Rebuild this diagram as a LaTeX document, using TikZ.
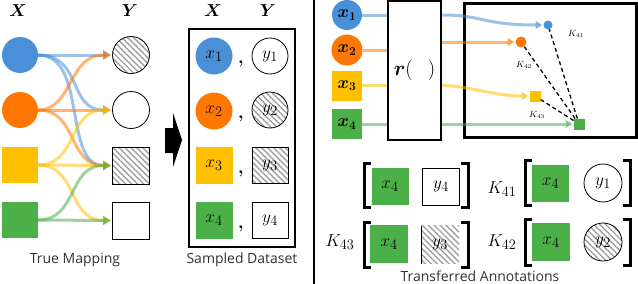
\documentclass[tikz,border=0pt]{standalone}
\usepackage{amsmath,bm}
\usepackage{fontspec}
\setsansfont{Open Sans}
\usetikzlibrary{arrows.meta,patterns.meta}
\definecolor{cblue}{RGB}{74,144,217}
\definecolor{corange}{RGB}{255,119,0}
\definecolor{cyellow}{RGB}{255,192,0}
\definecolor{cgreen}{RGB}{76,176,72}
\definecolor{ctext}{RGB}{50,50,50}
\begin{document}
\begin{tikzpicture}[x=1pt,y=-1pt,
  shp/.style={inner sep=0pt,outer sep=0pt},
  xcirc/.style={shp,circle,minimum size=#1},
  xsq/.style={shp,rectangle,minimum size=#1},
  hatch/.style={pattern={Lines[angle=-45,distance=4.2pt,line width=1.4pt]},pattern color=gray!75},
  ybord/.style={draw=black,line width=0.8pt},
  arr/.style={line width=3pt,opacity=0.55,-{Triangle[length=8pt,width=9pt]},shorten >=1.5pt},
  rline/.style={line width=3pt,opacity=0.55},
  rarr/.style={line width=3pt,opacity=0.55,-{Triangle[length=7pt,width=8pt]},shorten >=1pt},
  kdash/.style={line width=1.3pt,dash pattern=on 4pt off 3pt},
  hdr/.style={font=\fontsize{17}{18}\selectfont},
  lab/.style={font=\fontsize{19}{20}\selectfont},
  blab/.style={font=\fontsize{17}{18}\selectfont},
  klab/.style={font=\fontsize{9}{10}\selectfont},
  kbig/.style={font=\fontsize{19}{20}\selectfont},
  captxt/.style={font=\sffamily\fontsize{14}{16}\selectfont,text=ctext,inner sep=0.5pt},
  brk/.style={line width=3pt},
  thickbox/.style={draw,line width=2.6pt,inner sep=0pt},
]
\useasboundingbox (0,0) rectangle (638,284);

% ---------------- left panel ----------------
\node[hdr] (LXh) at (18,11) {$\bm{X}$};
\node[hdr] (LYh) at (130,11) {$\bm{Y}$};
\node[xcirc=36pt,fill=cblue] (LX1) at (20,55) {};
\node[xcirc=36pt,fill=corange] (LX2) at (20,110) {};
\node[xsq=36pt,fill=cyellow] (LX3) at (20,165) {};
\node[xsq=36pt,fill=cgreen] (LX4) at (20,220) {};
\node[xcirc=37pt,hatch,ybord] (LY1) at (131,55) {};
\node[xcirc=37pt,ybord] (LY2) at (131,110) {};
\node[xsq=37pt,hatch,ybord] (LY3) at (131,165.5) {};
\node[xsq=37pt,ybord] (LY4) at (131,220.5) {};

\draw[arr,cblue] (LX1.east) -- (LY1.west);
\draw[arr,cblue] (LX1.east) .. controls +(45,0) and +(-45,0) .. (LY2.west);
\draw[arr,cblue] (LX1.east) .. controls +(50,0) and +(-50,0) .. (LY3.west);
\draw[arr,corange] (LX2.east) .. controls +(35,0) and +(-45,0) .. (LY1.west);
\draw[arr,corange] (LX2.east) -- (LY2.west);
\draw[arr,corange] (LX2.east) .. controls +(40,0) and +(-45,0) .. (LY3.west);
\draw[arr,cyellow] (LX3.east) .. controls +(40,0) and +(-45,0) .. (LY2.west);
\draw[arr,cyellow] (LX3.east) -- (LY3.west);
\draw[arr,cyellow] (LX3.east) .. controls +(40,0) and +(-45,0) .. (LY4.west);
\draw[arr,cgreen] (LX4.east) .. controls +(40,0) and +(-45,0) .. (LY3.west);
\draw[arr,cgreen] (LX4.east) -- (LY4.west);

\node[captxt] (tm) at (75,260) {True Mapping};

% big black arrow
\fill (165,128) -- (173,128) -- (173,113) -- (182,140) -- (173,167) -- (173,153) -- (165,153) -- cycle;

% ---------------- middle panel ----------------
\node[hdr] (MXh) at (213,11) {$\bm{X}$};
\node[hdr] (MYh) at (268,11) {$\bm{Y}$};
\node[thickbox,minimum width=106pt,minimum height=218pt] (MB) at (242,138) {};
\node[xcirc=37pt,fill=cblue,lab] (MX1) at (214,56) {$x_1$};
\node[xcirc=37pt,fill=corange,lab] (MX2) at (214,111) {$x_2$};
\node[xsq=37pt,fill=cyellow,lab] (MX3) at (214,165.5) {$x_3$};
\node[xsq=37pt,fill=cgreen,lab] (MX4) at (214,220.5) {$x_4$};
\node[xcirc=36pt,ybord,lab] (MY1) at (270,56) {$y_1$};
\node[xcirc=36pt,ybord,hatch,lab] (MY2) at (270,110) {$y_2$};
\node[xsq=36pt,ybord,hatch,lab] (MY3) at (270,165.5) {$y_3$};
\node[xsq=36pt,ybord,lab] (MY4) at (270,220.5) {$y_4$};
\node[lab] (c1) at (241,64) {$\bm{,}$};
\node[lab] (c2) at (241,119) {$\bm{,}$};
\node[lab] (c3) at (241,174) {$\bm{,}$};
\node[lab] (c4) at (241,229) {$\bm{,}$};
\node[captxt] (sd) at (242,260) {Sampled Dataset};

% separator
\draw[line width=1.5pt] (314,0) -- (314,284);

% ---------------- right top ----------------
\node[xcirc=30pt,fill=cblue,blab] (RX1) at (347,15) {$\bm{x}_{\bm 1}$};
\node[xcirc=31pt,fill=corange,blab] (RX2) at (347,50) {$\bm{x}_{\bm 2}$};
\node[xsq=30pt,fill=cyellow,blab] (RX3) at (347,85.5) {$\bm{x}_{\bm 3}$};
\node[xsq=30pt,fill=cgreen,blab] (RX4) at (347,124) {$\bm{x}_{\bm 4}$};
\node[thickbox,minimum width=53pt,minimum height=139pt,font=\fontsize{20}{22}\selectfont] (rbox) at (414.5,70.5) {$\bm{r}(\;\;\,)$};
\node[draw,line width=3pt,inner sep=0pt,minimum width=172pt,minimum height=134pt] (BB) at (550,70) {};

\node[xcirc=9pt,fill=cblue] (TB) at (548,25) {};
\node[xcirc=11pt,fill=corange] (TO) at (521,42) {};
\node[xsq=11pt,fill=cyellow] (TY) at (535,96) {};
\node[xsq=11pt,fill=cgreen] (TG) at (579,124) {};

\draw[rline,cblue] (RX1.east) -- (RX1.east -| rbox.west);
\draw[rline,corange] (RX2.east) -- (RX2.east -| rbox.west);
\draw[rline,cyellow] (RX3.east) -- (RX3.east -| rbox.west);
\draw[rline,cgreen] (RX4.east) -- (RX4.east -| rbox.west);

\draw[rarr,cblue] (rbox.east |- RX1) .. controls +(40,0) and +(-60,0) .. (TB.west);
\draw[rarr,corange] (rbox.east |- TO) -- (TO.west);
\draw[rarr,cyellow] (rbox.east |- RX3) .. controls +(25,0) and +(-35,0) .. (TY.west);
\draw[rarr,cgreen] (rbox.east |- TG) -- (TG.west);

\draw[kdash] (TG) -- (TB);
\draw[kdash] (TG) -- (TO);
\draw[kdash] (TG) -- (TY);
\node[klab] (k41s) at (576,34) {$K_{41}$};
\node[klab] (k42s) at (524,65) {$K_{42}$};
\node[klab] (k43s) at (537,115) {$K_{43}$};

% ---------------- right bottom ----------------
% group A
\draw[brk] (371,163) -- (364,163) -- (364,207) -- (371,207);
\node[xsq=37pt,fill=cgreen,lab] (GA) at (390,186) {$x_4$};
\node[xsq=37pt,ybord,lab] (YA) at (441,186.5) {$y_4$};
\draw[brk] (461,163) -- (468,163) -- (468,207) -- (461,207);
% group B
\node[kbig] (KB) at (502,189) {$K_{41}$};
\draw[brk] (532,160) -- (525,160) -- (525,205) -- (532,205);
\node[xsq=37pt,fill=cgreen,lab] (GB) at (550.5,183) {$x_4$};
\node[xcirc=38pt,ybord,lab] (YB) at (603,183) {$y_1$};
\draw[brk] (623,160) -- (630,160) -- (630,205) -- (623,205);
% group C
\node[kbig] (KC) at (340,242) {$K_{43}$};
\draw[brk] (371,222) -- (364,222) -- (364,267) -- (371,267);
\node[xsq=38pt,fill=cgreen,lab] (GC) at (389,244) {$x_4$};
\node[xsq=38pt,hatch,lab] (YC) at (440,244.5) {$y_3$};
\draw[line width=0.8pt] (YC.north west) -- (YC.south west);
\draw[brk] (461,222) -- (468,222) -- (468,267) -- (461,267);
% group D
\node[kbig] (KD) at (502,242) {$K_{42}$};
\draw[brk] (532,219) -- (525,219) -- (525,265) -- (532,265);
\node[xsq=38pt,fill=cgreen,lab] (GD) at (551,242) {$x_4$};
\node[xcirc=38pt,ybord,hatch,lab] (YD) at (603,242) {$y_2$};
\draw[brk] (623,219) -- (630,219) -- (630,265) -- (623,265);

\node[captxt] (ta) at (480,276) {Transferred Annotations};
\end{tikzpicture}
\end{document}
